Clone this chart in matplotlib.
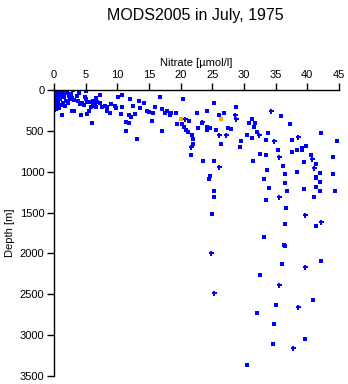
import matplotlib
matplotlib.use("Agg")
import matplotlib.pyplot as plt

plt.rcParams['font.family'] = ['Liberation Sans', 'DejaVu Sans']

# nitrate [umol/l] and depth [m], single casts
nitrate = [0.1, 0.3, 0.6, 0.9, 1.2, 0.2, 0.5, 0.8, 1.1, 0.1, 0.4, 0.7, 1.0, 1.3,
           0.2, 0.5, 0.8, 0.1, 0.4, 0.7, 1.0, 0.2, 0.5, 0.1, 0.0, 0.6, 1.3, 0.3,
           1.5, 1.8, 1.6, 1.9, 2.2, 1.4, 2.4, 2.7, 2.9, 2.0, 3.0, 1.7, 2.5, 3.2,
           1.1, 0.8, 3.9, 3.7, 5.0, 3.8, 4.9, 5.1, 5.2, 4.1, 4.4, 4.7, 5.7, 6.1,
           5.9, 6.2, 7.2, 6.7, 6.8, 7.3, 6.5, 6.7, 7.6, 8.1, 8.4, 8.8, 8.3, 9.0,
           9.6, 9.8, 10.1, 10.8, 10.7, 10.6, 11.3, 11.3, 11.8, 12.0, 11.9, 12.2,
           12.5, 12.8, 13.4, 13.1, 13.6, 14.2, 14.7, 15.0, 15.4, 15.7, 16.0,
           16.8, 17.0, 17.1, 17.6, 17.9, 18.4, 19.2, 19.4, 4.3, 5.2, 6.0, 5.6,
           3.2, 2.9,
           20.3, 19.2, 18.3, 25.3, 28.8, 22.5, 24.2, 26.1, 26.9, 35.9, 21.3,
           19.4, 20.2, 31.2, 30.8, 31.8, 37.3, 20.6, 22.8, 24.2, 24.6, 20.8,
           21.1, 24.2, 25.6, 27.5, 27.9, 31.5, 32.1, 23.3, 21.8, 30.4, 31.3,
           33.8, 42.2, 22.0, 29.6, 33.4, 37.6, 44.7, 22.0, 26.3, 29.3, 39.2,
           39.8, 39.2, 35.4, 37.5, 38.3, 21.7, 32.6, 33.5, 40.6, 44.1, 23.6,
           25.3, 31.4, 39.4, 41.4, 36.2, 33.7, 38.3, 36.4, 42.0, 44.1, 24.7,
           24.4, 33.2, 41.4, 41.3, 42.0, 36.4, 34.0, 41.3, 39.4, 25.3, 36.8,
           42.0, 44.3, 25.2, 33.5, 41.1, 36.7, 25.0, 36.5, 41.3, 30.5, 32.1,
           32.6, 33.2, 34.5, 34.8, 35.1, 36.0, 36.3, 36.4, 39.7, 40.9, 42.2]
depth = [10, 20, 15, 5, 10, 40, 35, 45, 30, 65, 60, 70, 55, 60,
         90, 95, 85, 120, 115, 130, 110, 150, 160, 200, 250, 180, 306, 230,
         20, 40, 85, 130, 155, 160, 70, 55, 100, 28, 0, 195, 105, 122,
         180, 220, 33, 73, 8, 135, 82, 110, 150, 175, 160, 184, 143, 135,
         204, 175, 61, 102, 143, 155, 196, 212, 212, 192, 204, 278, 253, 175,
         196, 224, 82, 57, 204, 298, 392, 502, 408, 106, 310, 335,
         196, 294, 135, 604, 220, 163, 257, 273, 384, 278, 212,
         82, 228, 498, 285, 257, 285, 285, 416, 302, 298, 408, 253,
         253, 260,
         110, 285, 300, 165, 212, 278, 262, 302, 285, 314, 376,
         416, 412, 359, 408, 408, 420, 449, 461, 453, 465, 494,
         514, 494, 494, 465, 481, 457, 510, 408, 555, 547, 592,
         530, 522, 596, 620, 616, 616, 628, 661, 657, 694, 706,
         690, 739, 739, 755, 739, 800, 780, 800, 796, 824, 873,
         869, 873, 881, 910, 934, 983, 1004, 1032, 1020, 1032, 1053,
         1093, 1093, 1069, 1077, 1130, 1142, 1203, 1191, 1215, 1240, 1240,
         1240, 1232, 1313, 1350, 1305, 1448, 1521, 1645, 1670, 3370, 2735,
         2270, 1805, 3110, 2865, 2625, 2135, 1900, 1915, 3050, 2575, 2090]

# overlapping samples, drawn as a cross
nitrate_x = [20.7, 23.3, 28.6, 28.7, 34.3, 26.0, 27.1, 32.3, 34.7, 38.5,
             21.7, 35.5, 40.7, 41.0, 26.0, 35.5, 39.6, 42.1, 24.8, 25.3,
             35.5, 37.7, 38.5, 39.6]
depth_x = [359, 392, 310, 359, 262, 555, 555, 555, 628, 580,
           702, 824, 849, 959, 947, 1313, 1534, 1615, 2000, 2490,
           2390, 3160, 2660, 2170]

# flagged values
nitrate_flag = [20.0, 26.3]
depth_flag = [357, 361]

fig = plt.figure(figsize=(3.48, 3.84), dpi=100)
ax = fig.add_axes([54 / 348, 1 - 376 / 384, 285 / 348, 286 / 384])

ax.plot(nitrate, depth, 's', color='#0000ff', markersize=2.2, markeredgewidth=0)
ax.plot(nitrate_x, depth_x, 'P', color='#0000ff', markersize=3.6, markeredgewidth=0)
ax.plot(nitrate_flag, depth_flag, 's', color='#ffa500', markersize=2.2, markeredgewidth=0)

ax.set_xlim(0, 45)
ax.set_ylim(3500, 0)
ax.set_xticks(range(0, 46, 5))
ax.set_yticks(range(0, 3501, 500))

ax.xaxis.tick_top()
ax.xaxis.set_label_position('top')
ax.spines['bottom'].set_visible(False)
ax.spines['right'].set_visible(False)
for s in ('top', 'left'):
    ax.spines[s].set_linewidth(1.0)
ax.tick_params(labelsize=8, length=5, width=1.0, pad=2, direction='out')

ax.set_xlabel('Nitrate [\u00b5mol/l]', fontsize=8, labelpad=3)
ax.set_ylabel('Depth [m]', fontsize=8, labelpad=3)
fig.suptitle('MODS2005 in July, 1975', fontsize=11.5, x=195 / 348, y=0.978)

fig.savefig('out.png', dpi=100)
